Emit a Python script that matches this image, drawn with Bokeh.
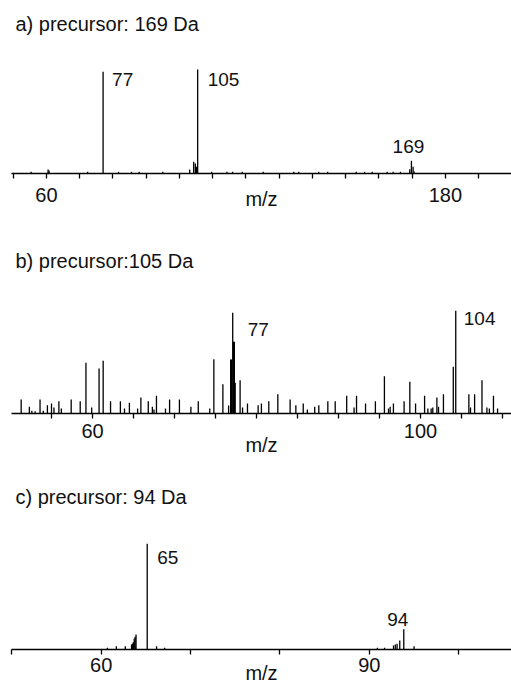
from bokeh.plotting import figure
from bokeh.models import FixedTicker, ColumnDataSource, Range1d
from bokeh.layouts import column
from bokeh.core.properties import value
from bokeh.embed import file_html
from bokeh.resources import INLINE

FONT = "Liberation Sans"

# ---------------- data ----------------
title_a = "a) precursor: 169 Da"
title_b = "b) precursor:105  Da"
title_c = "c) precursor: 94 Da"
x_title = "m/z"

mz_a = [55.4, 60.5, 60.8, 72.4, 77.05, 81.7, 85.6, 87.9, 95.0, 103.1, 104.3, 104.8,
        105.1, 105.5, 109.7, 114.3, 116.0, 118.9, 125.2, 134.4, 135.9, 141.9, 144.6,
        153.2, 155.7, 158.0, 162.5, 164.3, 166.5, 169.3, 169.8, 170.3, 170.6]
int_a = [1.6, 3.8, 3.0, 1.6, 97.7, 1.6, 1.6, 1.6, 1.6, 3.8, 11.3, 9.6,
         6.4, 100.0, 1.6, 1.6, 1.6, 1.6, 1.6, 1.6, 1.6, 1.6, 1.6,
         1.6, 1.6, 1.6, 1.6, 1.6, 1.6, 4.1, 12.2, 6.4, 1.9]

mz_b = [51.3, 52.3, 52.6, 53.0, 53.6, 54.0, 54.5, 55.0, 55.3, 55.9, 56.2, 57.4,
        58.5, 59.2, 59.9, 60.8, 61.3, 62.2, 63.4, 63.9, 64.5, 65.5, 65.9, 66.8,
        67.3, 67.5, 67.8, 68.9, 69.4, 70.6, 72.0, 72.9, 74.3, 74.8, 75.9, 76.6,
        76.85, 76.95, 77.1, 77.2, 77.3, 77.4, 78.0, 78.3, 78.9, 80.2, 80.6, 81.5,
        82.6, 84.1, 84.8, 85.7, 86.2, 87.1, 87.6, 88.7, 89.6, 91.0, 91.9, 92.2,
        93.3, 94.5, 95.6, 96.1, 96.3, 96.7, 98.0, 98.7, 99.4, 100.5, 100.9, 101.3,
        101.5, 102.0, 102.2, 102.8, 104.0, 104.3, 105.9, 106.1, 106.6, 107.5, 108.1,
        108.4, 108.9, 109.4]
int_b = [13.6, 6.5, 2.6, 2.2, 13.6, 2.6, 8.1, 9.7, 5.8, 12.0, 4.9, 13.6,
         12.0, 49.4, 5.8, 43.8, 51.3, 12.0, 12.0, 4.9, 10.4, 4.9, 15.6, 12.0,
         6.5, 3.9, 17.2, 4.9, 13.6, 13.6, 6.5, 12.0, 4.9, 52.9, 28.5, 7.8,
         52.6, 52.6, 98.1, 69.8, 69.8, 30.0, 32.4, 5.8, 9.7, 8.1, 9.7, 12.0,
         18.8, 13.6, 8.1, 9.7, 3.9, 6.5, 8.1, 12.0, 12.0, 17.2, 5.8, 17.2,
         9.7, 12.0, 36.3, 4.9, 6.5, 9.7, 12.0, 30.9, 9.7, 17.2, 4.9, 4.9,
         5.8, 15.6, 6.5, 18.8, 45.5, 100.0, 18.8, 5.8, 18.8, 32.4, 5.8,
         4.9, 17.2, 4.9]

mz_c = [60.7, 61.7, 62.7, 63.4, 63.5, 63.6, 63.7, 63.8, 63.9, 65.15, 66.2, 67.1,
        90.9, 91.7, 92.7, 92.9, 93.1, 93.4, 93.85, 95.0]
int_c = [1.6, 3.1, 3.1, 4.7, 5.5, 6.9, 10.4, 12.0, 14.2, 100.0, 3.1, 1.6,
         1.6, 1.6, 3.8, 4.7, 5.4, 8.5, 19.2, 3.1]

# tick values
major_a = [60, 180]
minor_a = [50, 70, 80, 90, 100, 110, 120, 130, 140, 150, 160, 170, 190]
major_b = [60, 100]
minor_b = [50, 55, 65, 70, 75, 80, 85, 90, 95, 105, 110]
major_c = [60, 90]
minor_c = [50, 70, 80, 100]

# peak annotations
lab_a = ["77", "105", "169"]
lab_a_mz = [77.05, 105.5, 169.8]
lab_a_int = [97.7, 100.0, 12.2]
lab_b = ["77", "104"]
lab_b_mz = [77.1, 104.3]
lab_b_int = [98.1, 100.0]
lab_c = ["65", "94"]
lab_c_mz = [65.15, 93.85]
lab_c_int = [100.0, 19.2]

# ---------------- styling / layout ----------------
lab_a_style = dict(dx=[9, 10, -3], dy=[8, 10, -14], align=["left", "left", "center"])
lab_b_style = dict(dx=[15, 8], dy=[17, 8], align=["left", "left"])
lab_c_style = dict(dx=[10, -6], dy=[14, -10], align=["left", "center"])


def panel(title, mz, inten, xr, y_end, major, minor, labs, labs_mz, labs_int, lstyle,
          height, top, bottom, tick_standoff, xlab_standoff):
    p = figure(width=511, height=height, x_range=Range1d(*xr), y_range=Range1d(0, y_end),
               output_backend="svg", toolbar_location=None, y_axis_location=None,
               min_border_left=11, min_border_right=0, min_border_top=top,
               min_border_bottom=bottom, title=title)
    p.title.align = "left"
    p.title.offset = 4
    p.title.text_font = FONT
    p.title.text_font_size = "20px"
    p.title.text_font_style = "normal"
    p.title.text_color = "#111111"
    p.grid.visible = False
    p.outline_line_color = None
    p.background_fill_color = "white"
    p.border_fill_color = "white"

    src = ColumnDataSource(dict(mz=mz, inten=inten))
    p.segment(x0="mz", y0=0, x1="mz", y1="inten", source=src,
              line_color="black", line_width=1.3)

    lsrc = ColumnDataSource(dict(mz=labs_mz, inten=labs_int, text=labs,
                                 dx=lstyle["dx"], dy=lstyle["dy"], align=lstyle["align"]))
    p.text(x="mz", y="inten", text="text", source=lsrc, x_offset="dx", y_offset="dy",
           text_align="align", text_baseline="alphabetic",
           text_font=value(FONT), text_font_size="19px", text_color="#111111")

    ax = p.xaxis[0]
    ax.ticker = FixedTicker(ticks=major, minor_ticks=minor)
    ax.axis_label = x_title
    ax.axis_label_text_font = FONT
    ax.axis_label_text_font_size = "20px"
    ax.axis_label_text_font_style = "normal"
    ax.axis_label_text_color = "#111111"
    ax.axis_label_standoff = xlab_standoff
    ax.major_label_text_font = FONT
    ax.major_label_text_font_size = "20px"
    ax.major_label_text_color = "#111111"
    ax.major_label_standoff = tick_standoff
    ax.axis_line_color = "black"
    ax.axis_line_width = 1.3
    ax.major_tick_line_color = "black"
    ax.minor_tick_line_color = "black"
    ax.major_tick_line_width = 1.3
    ax.minor_tick_line_width = 1.3
    ax.major_tick_in = 0
    ax.major_tick_out = 5
    ax.minor_tick_in = 0
    ax.minor_tick_out = 5
    return p


pa = panel(title_a, mz_a, int_a, (49.5, 199.9), 128.8, major_a, minor_a,
           lab_a, lab_a_mz, lab_a_int, lab_a_style, 220, 39, 47, 9, -17)
pb = panel(title_b, mz_b, int_b, (50.12, 111.1), 133.4, major_b, minor_b,
           lab_b, lab_b_mz, lab_b_int, lab_b_style, 238, 56, 45, 5, -7)
pc = panel(title_c, mz_c, int_c, (49.97, 105.9), 129.6, major_c, minor_c,
           lab_c, lab_c_mz, lab_c_int, lab_c_style, 228, 54, 37, 3, -13)

layout = column(pa, pb, pc, spacing=0)

with open("out.html", "w") as f:
    f.write(file_html(layout, INLINE))
